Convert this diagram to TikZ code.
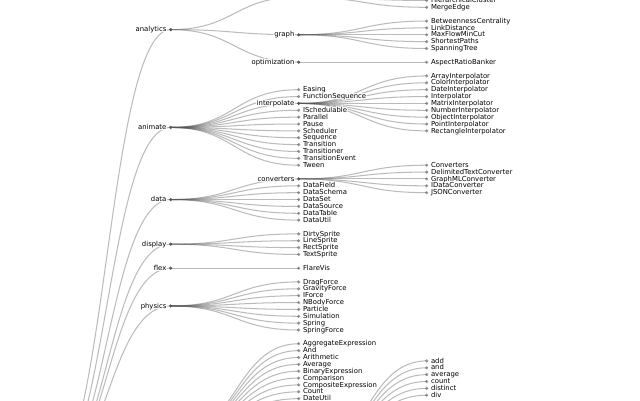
\documentclass[tikz,border=0pt]{standalone}
\usepackage{fontspec}
\setmainfont{DejaVu Sans}
\usepackage[copies]{contour}
\contourlength{1pt}
\definecolor{innerc}{HTML}{555555}
\definecolor{leafc}{HTML}{999999}
\definecolor{linkc}{HTML}{555555}
\newcommand\treedata{%
\TE{root}{170.7}{4.25}{analytics}{inner}%
\TE{root}{170.7}{18.5}{animate}{inner}%
\TE{root}{170.7}{29}{data}{inner}%
\TE{root}{170.7}{35.5}{display}{inner}%
\TE{root}{170.7}{39}{flex}{inner}%
\TE{root}{170.7}{44.5}{physics}{inner}%
\TC{root}{170.7}{64}{query}%
\TC{analytics}{298.7}{-0.5}{cluster}%
\TE{analytics}{298.7}{5}{graph}{inner}%
\TE{analytics}{298.7}{9}{optimization}{inner}%
\TE{cluster}{426.7}{0}{HierarchicalCluster}{leaf}%
\TE{cluster}{426.7}{1}{MergeEdge}{leaf}%
\TE{graph}{426.7}{3}{BetweennessCentrality}{leaf}%
\TE{graph}{426.7}{4}{LinkDistance}{leaf}%
\TE{graph}{426.7}{5}{MaxFlowMinCut}{leaf}%
\TE{graph}{426.7}{6}{ShortestPaths}{leaf}%
\TE{graph}{426.7}{7}{SpanningTree}{leaf}%
\TE{optimization}{426.7}{9}{AspectRatioBanker}{leaf}%
\TE{animate}{298.7}{13}{Easing}{leaf}%
\TE{animate}{298.7}{14}{FunctionSequence}{leaf}%
\TE{animate}{298.7}{15}{interpolate}{inner}%
\TE{animate}{298.7}{16}{ISchedulable}{leaf}%
\TE{animate}{298.7}{17}{Parallel}{leaf}%
\TE{animate}{298.7}{18}{Pause}{leaf}%
\TE{animate}{298.7}{19}{Scheduler}{leaf}%
\TE{animate}{298.7}{20}{Sequence}{leaf}%
\TE{animate}{298.7}{21}{Transition}{leaf}%
\TE{animate}{298.7}{22}{Transitioner}{leaf}%
\TE{animate}{298.7}{23}{TransitionEvent}{leaf}%
\TE{animate}{298.7}{24}{Tween}{leaf}%
\TE{interpolate}{426.7}{11}{ArrayInterpolator}{leaf}%
\TE{interpolate}{426.7}{12}{ColorInterpolator}{leaf}%
\TE{interpolate}{426.7}{13}{DateInterpolator}{leaf}%
\TE{interpolate}{426.7}{14}{Interpolator}{leaf}%
\TE{interpolate}{426.7}{15}{MatrixInterpolator}{leaf}%
\TE{interpolate}{426.7}{16}{NumberInterpolator}{leaf}%
\TE{interpolate}{426.7}{17}{ObjectInterpolator}{leaf}%
\TE{interpolate}{426.7}{18}{PointInterpolator}{leaf}%
\TE{interpolate}{426.7}{19}{RectangleInterpolator}{leaf}%
\TE{data}{298.7}{26}{converters}{inner}%
\TE{data}{298.7}{27}{DataField}{leaf}%
\TE{data}{298.7}{28}{DataSchema}{leaf}%
\TE{data}{298.7}{29}{DataSet}{leaf}%
\TE{data}{298.7}{30}{DataSource}{leaf}%
\TE{data}{298.7}{31}{DataTable}{leaf}%
\TE{data}{298.7}{32}{DataUtil}{leaf}%
\TE{converters}{426.7}{24}{Converters}{leaf}%
\TE{converters}{426.7}{25}{DelimitedTextConverter}{leaf}%
\TE{converters}{426.7}{26}{GraphMLConverter}{leaf}%
\TE{converters}{426.7}{27}{IDataConverter}{leaf}%
\TE{converters}{426.7}{28}{JSONConverter}{leaf}%
\TE{display}{298.7}{34}{DirtySprite}{leaf}%
\TE{display}{298.7}{35}{LineSprite}{leaf}%
\TE{display}{298.7}{36}{RectSprite}{leaf}%
\TE{display}{298.7}{37}{TextSprite}{leaf}%
\TE{flex}{298.7}{39}{FlareVis}{leaf}%
\TE{physics}{298.7}{41}{DragForce}{leaf}%
\TE{physics}{298.7}{42}{GravityForce}{leaf}%
\TE{physics}{298.7}{43}{IForce}{leaf}%
\TE{physics}{298.7}{44}{NBodyForce}{leaf}%
\TE{physics}{298.7}{45}{Particle}{leaf}%
\TE{physics}{298.7}{46}{Simulation}{leaf}%
\TE{physics}{298.7}{47}{Spring}{leaf}%
\TE{physics}{298.7}{48}{SpringForce}{leaf}%
\TE{query}{298.7}{50}{AggregateExpression}{leaf}%
\TE{query}{298.7}{51}{And}{leaf}%
\TE{query}{298.7}{52}{Arithmetic}{leaf}%
\TE{query}{298.7}{53}{Average}{leaf}%
\TE{query}{298.7}{54}{BinaryExpression}{leaf}%
\TE{query}{298.7}{55}{Comparison}{leaf}%
\TE{query}{298.7}{56}{CompositeExpression}{leaf}%
\TE{query}{298.7}{57}{Count}{leaf}%
\TE{query}{298.7}{58}{DateUtil}{leaf}%
\TC{query}{298.7}{68}{methods}%
\TE{methods}{426.7}{52.5}{add}{leaf}%
\TE{methods}{426.7}{53.5}{and}{leaf}%
\TE{methods}{426.7}{54.5}{average}{leaf}%
\TE{methods}{426.7}{55.5}{count}{leaf}%
\TE{methods}{426.7}{56.5}{distinct}{leaf}%
\TE{methods}{426.7}{57.5}{div}{leaf}%
}
\begin{document}
\begin{tikzpicture}[x=1pt,y=-1pt,
  link/.style={draw=linkc,draw opacity=0.4,line width=1.03pt},
  dot-inner/.style={circle,fill=innerc,inner sep=0pt,minimum size=3.43pt},
  dot-leaf/.style={circle,fill=leafc,inner sep=0pt,minimum size=3.43pt},
  lbl/.style={inner sep=0pt,text=black,font=\fontsize{6.87}{8}\selectfont},
  lbl-leaf/.style={lbl,anchor=base west,xshift=4.12pt,yshift=-2.13pt},
  lbl-inner/.style={lbl,anchor=base east,xshift=-4.12pt,yshift=-2.13pt}]
\useasboundingbox (0,0) rectangle (640,400);
\fill[white] (0,0) rectangle (640,400);
\clip (0,0) rectangle (640,400);
\coordinate (n-root) at (42.7,485);
% pass 1: dots and coordinates
\def\TE#1#2#3#4#5{\node[dot-#5] (n-#4) at (#2,{0.43+6.866*(#3)}) {};}
\def\TC#1#2#3#4{\coordinate (n-#4) at (#2,{0.43+6.866*(#3)});}
\treedata
% pass 2: links
\def\TE#1#2#3#4#5{\draw[link] (n-#1.center) .. controls +(64,0) and +(-64,0) .. (n-#4.center);}
\def\TC#1#2#3#4{\draw[link] (n-#1.center) .. controls +(64,0) and +(-64,0) .. (n-#4.center);}
\treedata
% pass 3: labels with white halo
\def\TE#1#2#3#4#5{\node[lbl-#5] (l-#4) at (n-#4.center) {\contour{white}{#4}};}
\def\TC#1#2#3#4{}
\treedata
\end{tikzpicture}
\end{document}
